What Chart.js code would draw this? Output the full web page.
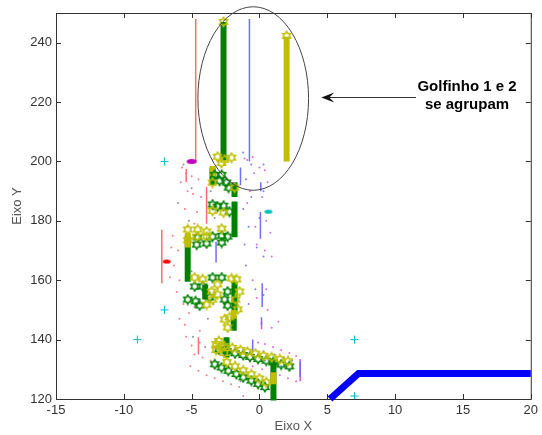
<!DOCTYPE html>
<html>
<head>
<meta charset="utf-8">
<script src="https://cdn.jsdelivr.net/npm/chart.js@4.4.1/dist/chart.umd.min.js"></script>
<style>
  html, body { margin: 0; padding: 0; background: #fff; }
</style>
</head>
<body>
<canvas id="chart" width="542" height="435"></canvas>
<script>
// axis ticks
const xTicks = [-15, -10, -5, 0, 5, 10, 15, 20];
const yTicks = [120, 140, 160, 180, 200, 220, 240];

// thick trajectory pieces, [x, y]
const greenBars = [
  [[-2.65, 200.5], [-2.65, 247]],
  [[-3.46, 192], [-3.46, 198]],
  [[-1.84, 188], [-1.84, 193]],
  [[-1.84, 174.5], [-1.84, 186.5]],
  [[-5.29, 159.5], [-5.29, 175]],
  [[-4.0, 153.5], [-4.0, 158.5]],
  [[-1.84, 149.5], [-1.84, 159.5]],
  [[-2.43, 134], [-2.43, 140.8]],
  [[-1.9, 143], [-1.9, 148]],
  [[1.03, 119.5], [1.03, 133.4]]
];
const yellowBars = [
  [[2.0, 200], [2.0, 242]],
  [[-5.29, 171], [-5.29, 176]],
  [[-1.9, 147], [-1.9, 150]],
  [[-3.46, 195], [-3.46, 198.5]],
  [[1.03, 125], [1.03, 129]]
];
const blueTrackX = [5.2, 7.3, 20];
const blueTrackY = [120, 128.6, 128.6];

// thin traces
const redLines = [
  [[-4.7, 200], [-4.7, 248]],
  [[-5.4, 193], [-5.4, 197.5]],
  [[-7.2, 159], [-7.2, 177]],
  [[-3.9, 179], [-3.9, 191.5]],
  [[-4.5, 135], [-4.5, 140.8]]
];
const blueLines = [
  [[-0.74, 200], [-0.74, 248]],
  [[-1.4, 192], [-1.4, 198]],
  [[0.1, 190], [0.1, 193]],
  [[0.07, 174], [0.07, 183]],
  [[-3.2, 166], [-3.2, 173]],
  [[0.2, 151], [0.2, 159]],
  [[0.15, 145], [0.15, 147.5]],
  [[-0.5, 136], [-0.5, 140]],
  [[3.0, 127.5], [3.0, 132.7]]
];
const magentaLines = [
  [[3.0, 126], [3.0, 133.5]],
  [[0.15, 143.5], [0.15, 146]]
];

// star markers
const yellowStars = [
  [-2.65, 247], [2.0, 242.3],
  [-3.09, 201.6], [-2.57, 200.6], [-2.06, 201.3], [-2.8, 199.5],
  [-3.46, 192.9], [-1.84, 191.2], [-2.65, 182.8], [-3.46, 183.4],
  [-5.29, 177.1], [-4.56, 177.1], [-3.90, 176.4], [-2.79, 177.4],
  [-4.63, 174.7], [-3.90, 174.7], [-5.29, 173.5],
  [-4.78, 160.9], [-4.19, 160.3], [-2.06, 160.6], [-1.69, 160.3],
  [-3.09, 158.6], [-3.53, 156.2], [-3.09, 155.2], [-3.46, 153.5],
  [-3.90, 151.8], [-1.47, 156.2], [-1.76, 153.5], [-1.60, 150.2],
  [-2.57, 146.8], [-2.21, 147.5], [-2.35, 144.1],
  [-3.0, 139.5], [-2.8, 137.5], [-3.2, 136.5], [-2.6, 135.5]
];
const greenStars = [
  [-3.31, 195.5], [-2.79, 195.5], [-2.94, 193.5], [-2.43, 192.9], [-2.28, 191.2],
  [-3.46, 185.5], [-3.09, 184.8], [-2.65, 185.1], [-2.21, 183.1],
  [-4.56, 174.4], [-3.46, 174.7], [-2.79, 175.0], [-2.35, 174.7],
  [-4.63, 172.0], [-3.90, 172.4], [-2.79, 172.7],
  [-3.46, 160.9], [-2.79, 160.9], [-4.78, 157.9], [-4.19, 157.9], [-2.35, 156.2],
  [-5.29, 153.5], [-4.71, 152.9], [-4.41, 151.5], [-2.57, 153.5], [-2.35, 151.5], [-3.68, 154.2]
];
const yellowRowA = [
  [-3.2, 138.5], [-2.6, 137.8], [-2.0, 137.2], [-1.4, 136.5], [-0.9, 135.9],
  [-0.3, 135.3], [0.3, 134.6], [0.9, 134.0], [1.5, 133.4], [2.1, 132.7]
];
const greenRowB = [
  [-3.0, 136.7], [-2.4, 136.1], [-1.8, 135.4], [-1.2, 134.8], [-0.7, 134.2],
  [-0.1, 133.5], [0.5, 132.9], [1.0, 132.3], [1.6, 131.6], [2.2, 131.0]
];
const greenRowC = [
  [-3.3, 131.7], [-2.8, 130.6], [-2.3, 129.5], [-1.7, 128.4],
  [-1.2, 127.3], [-0.6, 126.2], [-0.1, 125.1], [0.4, 124.0]
];
const yellowRowD = [
  [-2.4, 132.4], [-1.8, 131.0], [-1.2, 129.6], [-0.6, 128.3], [0.0, 126.9], [0.5, 125.6]
];

// other markers
const crossX = [-7, -7, -9, 7, 7];
const crossY = [200, 150, 140, 140, 121];
const magentaBlob = [[-5.0, 200]];
const redBlob = [[-6.84, 166.3]];
const cyanBlob = [[0.66, 183.1]];

// faint dotted trails
const redDots = [
  [-5.4, 196], [-5.0, 195], [-4.5, 194], [-5.3, 190], [-4.9, 189], [-4.3, 188],
  [-5.5, 184], [-4.6, 183], [-5.3, 178], [-4.8, 179], [-6.4, 175], [-6.0, 170],
  [-6.3, 165], [-5.9, 160], [-6.1, 156], [-5.6, 152], [-5.2, 149], [-4.8, 151],
  [-5.5, 145], [-4.4, 143], [-5.0, 138], [-4.4, 139], [-5.1, 131], [-4.5, 129.5],
  [-3.9, 128], [-3.3, 127], [-2.7, 126], [-2.1, 125], [-1.5, 124], [-4.8, 135],
  [-4.2, 134], [-3.6, 133], [-1.2, 121], [-5.7, 198], [-5.8, 193], [-6.5, 171],
  [-6.6, 161], [-5.9, 147], [-5.4, 141], [-3.0, 131.5], [-2.4, 130.5], [-1.8, 129.5]
];
const magentaDots = [
  [-1.1, 201], [-0.9, 200.5], [-0.5, 201.5], [0.0, 198], [-0.4, 196], [0.4, 197],
  [0.6, 193], [-0.7, 190], [0.2, 188], [-0.9, 186], [0.5, 180], [-0.3, 178],
  [0.8, 176], [-0.2, 172], [0.4, 170], [0.9, 168], [-0.5, 160], [0.5, 157],
  [-0.2, 154], [0.6, 150], [1.4, 146], [0.9, 144], [-0.1, 139], [0.4, 138.5],
  [1.0, 137.5], [1.6, 136.5], [2.2, 135.5], [2.7, 134.5], [-0.5, 131], [0.2, 130],
  [0.9, 129], [1.5, 128], [2.1, 127], [2.7, 126]
];
const blueDots = [
  [-1.2, 203], [-0.6, 199], [0.3, 199], [-1.0, 194], [0.3, 190], [-0.6, 188],
  [-1.2, 184], [0.0, 181], [-0.8, 178], [-1.1, 172], [-0.2, 171], [0.3, 168],
  [-1.0, 165], [-0.3, 157], [0.3, 155], [-0.8, 152], [0.4, 133], [1.0, 132],
  [1.6, 131], [2.2, 130], [0.3, 136], [1.1, 135], [1.8, 134], [2.4, 133]
];
const grayDots = [
  [-5.6, 199], [-5.0, 191], [-3.6, 190], [-6.0, 186], [-5.2, 180], [-3.3, 181],
  [-4.4, 175], [-5.0, 163], [-4.6, 157], [-3.4, 152], [-3.8, 147], [-4.9, 141],
  [-4.0, 137.5], [-1.4, 126]
];

// annotation (ellipse, arrow, text) in data units
const note = {
  ellipse: { cx: -0.46, cy: 221.2, rx: 4.08, ry: 30.9 },
  arrow: { from: [11.54, 221.8], to: [4.56, 221.8] },
  text: ['Golfinho 1 e 2', 'se agrupam'],
  textX: 15.3,
  textY: [225.0, 219.0]
};

const FONT = "'Liberation Sans', Arial, sans-serif";
const GREEN = 'rgb(0,128,0)';
const YELLOW = 'rgb(191,191,0)';

function pts(list) { return list.map(p => ({ x: p[0], y: p[1] })); }

function hexagram(color) {
  const c = document.createElement('canvas');
  c.width = 12; c.height = 12;
  const g = c.getContext('2d');
  g.strokeStyle = color; g.lineWidth = 1.5;
  g.beginPath();
  for (let i = 0; i < 12; i++) {
    const r = i % 2 ? 2.7 : 4.6;
    const a = -Math.PI / 2 + i * Math.PI / 6;
    const px = 6 + r * Math.cos(a), py = 6 + r * Math.sin(a);
    if (i) g.lineTo(px, py); else g.moveTo(px, py);
  }
  g.closePath(); g.stroke();
  return c;
}

function blob(color, w, h) {
  const c = document.createElement('canvas');
  c.width = w + 2; c.height = h + 2;
  const g = c.getContext('2d');
  g.fillStyle = color;
  g.beginPath();
  g.ellipse(c.width / 2, c.height / 2, w / 2, h / 2, 0, 0, 2 * Math.PI);
  g.fill();
  return c;
}

function segment(list, color, width, order) {
  return {
    type: 'line', data: pts(list), showLine: true, borderColor: color,
    borderWidth: width, pointRadius: 0, order: order, clip: 6
  };
}

function markers(list, style, color, order) {
  return {
    type: 'scatter', data: pts(list), pointStyle: style, pointRadius: 5,
    borderColor: color, backgroundColor: color, borderWidth: 1, order: order, clip: 6
  };
}

function dots(list, color) {
  return {
    type: 'scatter', data: pts(list), pointStyle: 'circle', pointRadius: 1,
    borderWidth: 0, backgroundColor: color, order: 60
  };
}

const datasets = [];
datasets.push(dots(redDots, 'rgba(255,80,80,0.75)'));
datasets.push(dots(magentaDots, 'rgba(210,60,210,0.75)'));
datasets.push(dots(blueDots, 'rgba(80,80,255,0.75)'));
datasets.push(dots(grayDots, 'rgba(110,110,110,0.75)'));
redLines.forEach(s => datasets.push(segment(s, 'rgb(255,110,110)', 1.5, 50)));
magentaLines.forEach(s => datasets.push(segment(s, 'rgb(220,80,220)', 1.5, 45)));
blueLines.forEach(s => datasets.push(segment(s, 'rgb(110,110,255)', 1.5, 40)));
greenBars.forEach(s => datasets.push(segment(s, GREEN, 6, 30)));
yellowBars.forEach(s => datasets.push(segment(s, YELLOW, 6, 25)));

const greenStar = hexagram(GREEN);
const yellowStar = hexagram(YELLOW);
datasets.push(markers(greenStars, greenStar, GREEN, 20));
datasets.push(markers(greenRowB, greenStar, GREEN, 20));
datasets.push(markers(greenRowC, greenStar, GREEN, 20));
datasets.push(markers(yellowStars, yellowStar, YELLOW, 15));
datasets.push(markers(yellowRowA, yellowStar, YELLOW, 15));
datasets.push(markers(yellowRowD, yellowStar, YELLOW, 15));

datasets.push({
  type: 'scatter', data: crossX.map((x, i) => ({ x: x, y: crossY[i] })),
  pointStyle: 'cross', pointRadius: 4, borderColor: 'rgb(0,191,191)', borderWidth: 1, order: 10
});
datasets.push(markers(magentaBlob, blob('rgb(191,0,191)', 10, 5), 'rgb(191,0,191)', 10));
datasets.push(markers(redBlob, blob('rgb(255,0,0)', 8, 4), 'rgb(255,0,0)', 10));
datasets.push(markers(cyanBlob, blob('rgb(0,191,191)', 8, 4), 'rgb(0,191,191)', 10));

datasets.push({
  type: 'line', data: blueTrackX.map((x, i) => ({ x: x, y: blueTrackY[i] })),
  showLine: true, borderColor: 'rgb(0,0,255)', borderWidth: 7, pointRadius: 0,
  borderJoinStyle: 'miter', order: 5, clip: 6
});

// box with inward ticks on all four sides
const frame = {
  id: 'frame',
  beforeDatasetsDraw(chart) {
    const { ctx, chartArea: a, scales: { x, y } } = chart;
    ctx.save();
    ctx.strokeStyle = '#333';
    ctx.lineWidth = 1;
    ctx.strokeRect(a.left + 0.5, a.top + 0.5, a.right - a.left, a.bottom - a.top);
    ctx.beginPath();
    xTicks.forEach(v => {
      const px = Math.round(x.getPixelForValue(v)) + 0.5;
      ctx.moveTo(px, a.bottom); ctx.lineTo(px, a.bottom - 5);
      ctx.moveTo(px, a.top); ctx.lineTo(px, a.top + 5);
    });
    yTicks.forEach(v => {
      const py = Math.round(y.getPixelForValue(v)) + 0.5;
      ctx.moveTo(a.left, py); ctx.lineTo(a.left + 5, py);
      ctx.moveTo(a.right, py); ctx.lineTo(a.right - 5, py);
    });
    ctx.stroke();
    ctx.restore();
  }
};

const callout = {
  id: 'callout',
  afterDatasetsDraw(chart) {
    const { ctx, scales: { x, y } } = chart;
    const e = note.ellipse;
    const cx = x.getPixelForValue(e.cx), cy = y.getPixelForValue(e.cy);
    const rx = Math.abs(x.getPixelForValue(e.cx + e.rx) - cx);
    const ry = Math.abs(y.getPixelForValue(e.cy + e.ry) - cy);
    ctx.save();
    ctx.strokeStyle = '#444';
    ctx.lineWidth = 1;
    ctx.beginPath();
    ctx.ellipse(cx, cy, rx, ry, 0, 0, 2 * Math.PI);
    ctx.stroke();

    const x1 = x.getPixelForValue(note.arrow.from[0]);
    const x2 = x.getPixelForValue(note.arrow.to[0]);
    const ay = Math.round(y.getPixelForValue(note.arrow.to[1])) + 0.5;
    ctx.strokeStyle = '#333';
    ctx.beginPath();
    ctx.moveTo(x1, ay); ctx.lineTo(x2 + 6, ay);
    ctx.stroke();
    ctx.fillStyle = '#111';
    ctx.beginPath();
    ctx.moveTo(x2, ay);
    ctx.lineTo(x2 + 13, ay - 5);
    ctx.lineTo(x2 + 8, ay);
    ctx.lineTo(x2 + 13, ay + 5);
    ctx.closePath();
    ctx.fill();

    ctx.fillStyle = '#000';
    ctx.font = 'bold 15px ' + FONT;
    ctx.textAlign = 'center';
    ctx.textBaseline = 'middle';
    const tx = x.getPixelForValue(note.textX);
    note.text.forEach((t, i) => ctx.fillText(t, tx, y.getPixelForValue(note.textY[i])));
    ctx.restore();
  }
};

new Chart(document.getElementById('chart'), {
  type: 'scatter',
  data: { datasets: datasets },
  options: {
    responsive: false,
    animation: false,
    devicePixelRatio: 1,
    layout: { padding: { top: 13, right: 9, left: 0, bottom: 0 } },
    plugins: { legend: { display: false }, tooltip: { enabled: false } },
    scales: {
      x: {
        type: 'linear', min: -15, max: 20,
        grid: { display: false, drawTicks: false },
        border: { display: false },
        afterBuildTicks: s => { s.ticks = xTicks.map(v => ({ value: v })); },
        afterFit: s => { s.height = 36; },
        ticks: { color: '#333', font: { family: FONT, size: 13 }, padding: 4, maxRotation: 0 },
        title: { display: true, text: 'Eixo X', color: '#555', font: { family: FONT, size: 13 }, padding: { top: 0, bottom: 1 } }
      },
      y: {
        type: 'linear', min: 120, max: 250,
        grid: { display: false, drawTicks: false },
        border: { display: false },
        afterBuildTicks: s => { s.ticks = yTicks.map(v => ({ value: v })); },
        afterFit: s => { s.width = 56; },
        ticks: { color: '#333', font: { family: FONT, size: 13 }, padding: 4 },
        title: { display: true, text: 'Eixo Y', color: '#555', font: { family: FONT, size: 13 }, padding: { top: 10, bottom: 0 } }
      }
    }
  },
  plugins: [frame, callout]
});
</script>
</body>
</html>
